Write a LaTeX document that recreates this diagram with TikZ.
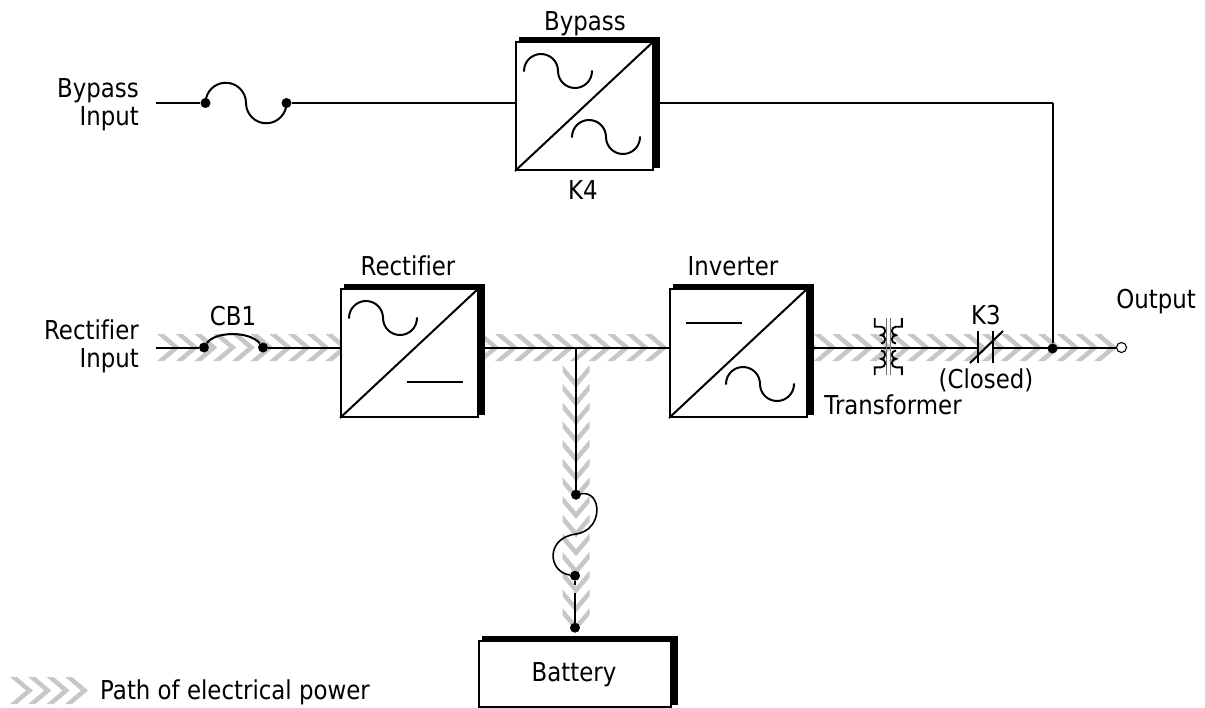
\documentclass[tikz,border=0pt]{standalone}
\usepackage{fontspec}
\setmainfont[FakeStretch=0.88,Ligatures=NoCommon]{DejaVu Sans}
\newcommand{\chevH}[2]{\fill[chevgrey] (#1,#2-13.5) -- ++(7,0) -- ++(16,13.5) -- ++(-16,13.5) -- ++(-7,0) -- ++(16,-13.5) -- cycle;}
\newcommand{\chevV}[2]{\fill[chevgrey] (#1-13.5,#2) -- ++(0,7) -- ++(13.5,16) -- ++(13.5,-16) -- ++(0,-7) -- ++(-13.5,16) -- cycle;}
\begin{document}
\begin{tikzpicture}[x=1pt,y=-1pt,
  wire/.style={line width=2pt,black},
  thin wire/.style={line width=1.6pt,black},
  coil/.style={line width=1.9pt,black},
  thickbar/.style={line width=5.5pt,black,line cap=butt},
  chevgrey/.style={black!22},
  lbl/.style={font=\fontsize{26}{28}\selectfont,inner sep=0pt,align=center},
  jdot/.style={circle,fill=black,inner sep=0pt,minimum size=10pt,draw=none},
  opendot/.style={circle,fill=white,draw=black,line width=1.1pt,inner sep=0pt,minimum size=10pt},
  box/.style={draw=black,line width=2pt,fill=white,inner sep=0pt,minimum width=137pt,minimum height=128pt,anchor=north west},
]
\useasboundingbox (0,0) rectangle (1205,707);
% grey paths
\foreach \xx in {157,175.7,...,330} {\chevH{\xx}{347.5}}
\foreach \xx in {476.3,495,...,660} {\chevH{\xx}{347.5}}
\foreach \xx in {794.8,813.5,...,1095} {\chevH{\xx}{347.5}}
\foreach \yy in {365,383.7,...,625} {\chevV{576}{\yy}}
\foreach \xx in {10,28.3,46.6,65} {\chevH{\xx}{690.5}}
% boxes
\node[box] (byp) at (515,41) {};
\node[box] (rec) at (340,288) {};
\node[box] (inv) at (669,288) {};
\node[draw=black,line width=2pt,fill=white,inner sep=0pt,minimum width=192pt,minimum height=66pt,anchor=north west] (bat) at (478,640) {};
\foreach \b in {byp,rec,inv,bat}{
  \draw[thickbar] ([xshift=4pt,yshift=1.5pt]\b.north west) -- ([xshift=5.5pt,yshift=1.5pt]\b.north east);
  \draw[thickbar] ([xshift=2.75pt,yshift=1pt]\b.north east) -- ([xshift=2.75pt,yshift=3pt]\b.south east);
}
\foreach \b in {byp,rec,inv}
  \draw[wire] (\b.south west) -- (\b.north east);
% sine
\tikzset{sine/.pic={\draw[wire,line cap=round] (0,0) arc[start angle=180,end angle=360,radius=17] arc[start angle=180,end angle=0,radius=17];}}
\path (byp.north west) ++(9,30) pic {sine};
\path (byp.north west) ++(57,96) pic {sine};
\path (rec.north west) ++(9,30) pic {sine};
\path (inv.north west) ++(57,96) pic {sine};
\draw[wire] ([shift={(67,94)}]rec.north west) -- ++(56,0);
\draw[wire] ([shift={(17,35)}]inv.north west) -- ++(56,0);
% bypass line
\coordinate (bin) at (156,103);
\node[jdot] (f1) at (205.5,103) {};
\node[jdot] (f2) at (286.5,103) {};
\draw[wire] (bin) -- (f1);
\draw[wire] (f2) -- (byp.west|-f2);
\draw[wire] (f1) arc[start angle=180,end angle=360,radius=20.25] arc[start angle=180,end angle=0,radius=20.25];
% output
\coordinate (tee) at (1052.5,103);
\draw[wire] (byp.east|-tee) -- (tee);
% rectifier line
\coordinate (rin) at (156,347.5);
\node[jdot] (c1) at (204,347.5) {};
\node[jdot] (c2) at (263,347.5) {};
\draw[wire] (rin) -- (c1);
\draw[wire] (c2) -- (rec.west|-c2);
\draw[wire] (c1) .. controls (215,331) and (250,331) .. (c2);
\coordinate (rr) at (481,347.5);
\draw[wire] (rr) -- (inv.west|-rr);
\coordinate (jt) at (576,347.5);
\node[jdot] (d1) at (576,494.7) {};
\node[jdot] (d2) at (575,575.7) {};
\node[jdot] (d3) at (575,627.7) {};
\draw[wire] (jt) -- (d1);
\draw[thin wire] (d1) .. controls (602,490) and (604,530) .. (576,534);
\draw[thin wire] (576,534) .. controls (545,538) and (548,572) .. (d2);
\draw[wire] (d2) -- (575,585);
\draw[wire] (575,592.5) -- (d3);
% right line
\coordinate (ir) at (809,347.5);
\coordinate (k1) at (978,347.5);
\coordinate (k2) at (993,347.5);
\node[jdot] (o1) at (1052.5,348.5) {};
\node[opendot] (o2) at (1121.5,347.5) {};
\draw[wire] (ir) -- (k1);
\draw[wire] (k2) -- (o2);
\draw[wire] (tee) -- (o1);
\draw[wire] (978,331) -- (978,363);
\draw[wire] (993,331) -- (993,363);
\draw[wire] (970,363) -- (1003,331);
% transformer
\draw[black!55,line width=1pt] (886.8,318) -- (886.8,375) (890.6,318) -- (890.6,375);
\draw[coil] (874.7,318) -- (874.7,326.7) -- (881,326.7)
  arc[start angle=-90,end angle=90,radius=4.2] arc[start angle=-90,end angle=90,radius=4.2]
  (881,350.5)
  arc[start angle=-90,end angle=90,radius=4.2] arc[start angle=-90,end angle=90,radius=4.2]
  -- (874.7,367.3) -- (874.7,375);
\draw[coil] (901.9,318) -- (901.9,326.7) -- (896,326.7)
  arc[start angle=270,end angle=90,radius=4.2] arc[start angle=270,end angle=90,radius=4.2]
  (896,350.5)
  arc[start angle=270,end angle=90,radius=4.2] arc[start angle=270,end angle=90,radius=4.2]
  -- (901.9,367.3) -- (901.9,375);
% labels
\node[lbl,anchor=east,align=right] (t1) at (139,105) {Bypass\\Input};
\node[lbl,anchor=east,align=right] (t2) at (139,346) {Rectifier\\Input};
\node[lbl] (t3) at (233,316) {CB1};
\node[lbl] (t4) at (585,24) {Bypass};
\node[lbl] (t5) at (583,190) {K4};
\node[lbl] (t6) at (408,266) {Rectifier};
\node[lbl] (t7) at (733,266) {Inverter};
\node[lbl] (t8) at (986,315) {K3};
\node[lbl] (t9) at (986,380) {(Closed)};
\node[lbl] (t10) at (893,405) {Transformer};
\node[lbl] (t11) at (1156,302) {Output};
\node[lbl] (t12) at (574,675) {Battery};
\node[lbl,anchor=west] (t13) at (100,692) {Path of electrical power};
\end{tikzpicture}
\end{document}
